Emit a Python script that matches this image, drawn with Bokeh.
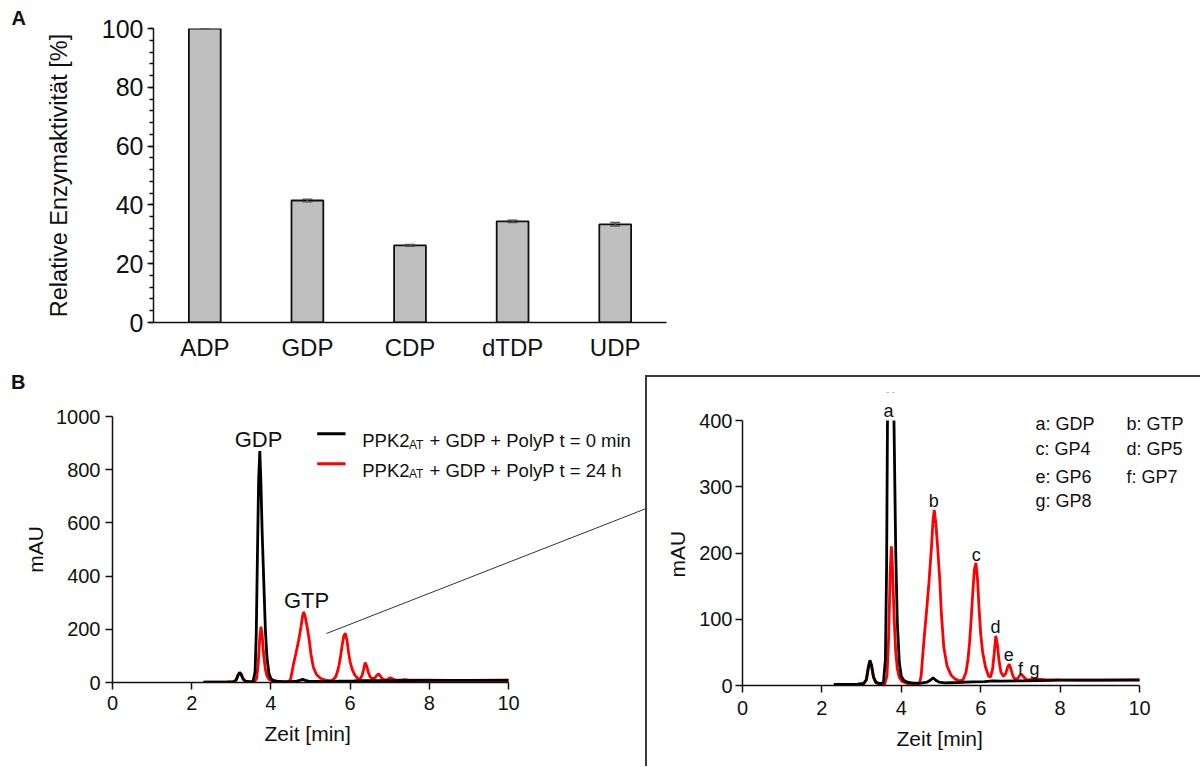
from bokeh.plotting import figure
from bokeh.models import (FactorRange, Range1d, FixedTicker, Label, Whisker, TeeHead,
                          ColumnDataSource, Spacer, Title, Div)
from bokeh.layouts import column, row
from bokeh.embed import file_html
from bokeh.resources import INLINE

FONT = "Liberation Sans"
INK = "#111111"

# ---------------- data: panel A ----------------
NUCLEOTIDES = ["ADP", "GDP", "CDP", "dTDP", "UDP"]
REL_ACTIVITY = [100.0, 41.5, 26.2, 34.4, 33.4]
REL_ERROR = [0.0, 0.4, 0.3, 0.4, 0.6]

# ---------------- data: panel B (HPLC traces) ----------------
TIME_T0 = [2.30, 2.60, 2.90, 3.05, 3.12, 3.17, 3.21, 3.25, 3.30, 3.36, 3.45, 3.55,
           3.60, 3.63, 3.66, 3.69, 3.72, 3.75, 3.78, 3.82, 3.86, 3.90, 3.95, 4.00,
           4.06, 4.15, 4.30, 4.50, 4.65, 4.73, 4.80, 4.87, 4.95, 5.10, 5.40, 5.80,
           6.10, 6.30, 6.50, 7.00, 7.50, 8.00, 9.00, 10.00]
MAU_T0 = [1.5, 1.5, 2.0, 3.0, 9, 28, 38, 31, 13, 5, 3, 4,
          40, 180, 480, 760, 870, 740, 560, 380, 200, 95, 35, 14,
          8, 5, 3.5, 3.5, 5, 8, 11.5, 8, 5, 4, 4.5, 5.5,
          6, 7, 6.5, 7, 7.5, 8, 8, 8.5]

TIME_T24 = [2.30, 2.60, 2.90, 3.05, 3.12, 3.17, 3.21, 3.25, 3.30, 3.36, 3.45, 3.58,
            3.64, 3.68, 3.72, 3.75, 3.78, 3.82, 3.86, 3.90, 3.95, 4.02, 4.15, 4.35,
            4.46, 4.50, 4.54, 4.58, 4.63, 4.70, 4.76, 4.80, 4.83, 4.87, 4.92, 4.97,
            5.01, 5.07, 5.15, 5.25, 5.35, 5.45, 5.55, 5.63, 5.68, 5.72, 5.76, 5.80,
            5.84, 5.88, 5.92, 5.96, 6.00, 6.05, 6.12, 6.20, 6.25, 6.30, 6.34, 6.38,
            6.42, 6.46, 6.51, 6.57, 6.63, 6.68, 6.72, 6.76, 6.82, 6.88, 6.94, 6.99,
            7.03, 7.08, 7.15, 7.22, 7.30, 7.38, 7.46, 7.60, 8.00, 8.50, 9.00, 10.00]
MAU_T24 = [1.0, 1.0, 1.5, 2.5, 8, 26, 36, 29, 12, 4, 1.5, 1.5,
           15, 70, 170, 210, 175, 100, 50, 25, 12, 6, 3, 1.5,
           3, 15, 45, 75, 108, 158, 209, 250, 265, 245, 205, 158,
           108, 58, 30, 16, 10, 7, 8, 20, 40, 65, 100, 140,
           175, 185, 160, 115, 78, 50, 28, 14, 13, 25, 48, 75,
           62, 38, 20, 14, 18, 28, 32, 25, 13, 9, 11, 16,
           17, 13, 9, 8.5, 9.5, 11, 9.5, 9, 8.5, 8, 8, 8]

LEGEND_MAIN = "PPK2"
LEGEND_SUB = "AT"
LEGEND_REST = ["+ GDP + PolyP t = 0 min", "+ GDP + PolyP t = 24 h"]
PEAK_LETTERS = ["a", "b", "c", "d", "e", "f", "g"]
PEAK_NAMES = ["GDP", "GTP", "GP4", "GP5", "GP6", "GP7", "GP8"]

X_TICKS = [0, 2, 4, 6, 8, 10]
Y_TICKS_A = [0, 20, 40, 60, 80, 100]
Y_MINOR_A = list(range(0, 101, 4))
Y_TICKS_B = [0, 200, 400, 600, 800, 1000]
Y_TICKS_C = [0, 100, 200, 300, 400]
INSET_Y_MAX = 400


def style_axis(ax, tick_fs, label_fs, tick_out, standoff, label_standoff):
    ax.axis_line_color = INK
    ax.axis_line_width = 1.5
    ax.major_tick_line_color = INK
    ax.major_tick_line_width = 1.5
    ax.major_tick_out = tick_out
    ax.major_tick_in = 0
    ax.minor_tick_line_color = None
    ax.major_label_text_font = FONT
    ax.major_label_text_font_size = f"{tick_fs}px"
    ax.major_label_text_color = INK
    ax.major_label_standoff = standoff
    ax.axis_label_text_font = FONT
    ax.axis_label_text_font_style = "normal"
    ax.axis_label_text_font_size = f"{label_fs}px"
    ax.axis_label_text_color = INK
    ax.axis_label_standoff = label_standoff


def clean(p):
    p.xgrid.visible = False
    p.ygrid.visible = False
    p.outline_line_color = None
    p.background_fill_color = "white"
    p.border_fill_color = "white"


def add_text(p, x, y, text, size, align="left", baseline="alphabetic", bold=False):
    p.add_layout(Label(x=x, y=y, text=text, text_font=FONT, text_font_size=f"{size}px",
                       text_align=align, text_baseline=baseline, text_color=INK,
                       text_font_style="bold" if bold else "normal", level="overlay"))


def side_title(text, size, align="left", offset=0, standoff=0, valign="bottom", bold=False):
    return Title(text=text, align=align, offset=offset, standoff=standoff,
                 vertical_align=valign, text_font=FONT, text_font_size=f"{size}px",
                 text_font_style="bold" if bold else "normal", text_color=INK)


# ---------------- panel A ----------------
pA = figure(x_range=FactorRange(factors=NUCLEOTIDES, range_padding=0), y_range=Range1d(0, 100),
            frame_width=513, frame_height=294,
            min_border_left=153, min_border_right=20, min_border_top=28, min_border_bottom=53,
            output_backend="svg", toolbar_location=None)
clean(pA)
pA.vbar(x=NUCLEOTIDES, top=REL_ACTIVITY, width=0.31, fill_color="#bfbfbf",
        line_color=INK, line_width=1.8)
err_src = ColumnDataSource(dict(base=NUCLEOTIDES,
                                lower=[v - e for v, e in zip(REL_ACTIVITY, REL_ERROR)],
                                upper=[v + e for v, e in zip(REL_ACTIVITY, REL_ERROR)]))
pA.add_layout(Whisker(base="base", lower="lower", upper="upper", source=err_src,
                      line_color="#555555", line_width=1.5, level="overlay",
                      upper_head=TeeHead(size=10, line_color="#555555", line_width=1.5),
                      lower_head=TeeHead(size=10, line_color="#555555", line_width=1.5)))
style_axis(pA.yaxis[0], 25, 23.5, 6, 4, 27)
pA.yaxis.ticker = FixedTicker(ticks=Y_TICKS_A, minor_ticks=Y_MINOR_A)
pA.yaxis.minor_tick_line_color = INK
pA.yaxis.minor_tick_line_width = 1.5
pA.yaxis.minor_tick_out = 4
pA.yaxis.minor_tick_in = 0
pA.yaxis.axis_label = "Relative Enzymaktivität [%]"
style_axis(pA.xaxis[0], 24, 22, 0, 11, 5)
pA.add_layout(side_title("A", 20, align="left", offset=-142, standoff=0, valign="bottom", bold=True), "above")

# ---------------- header strip carrying the "B" panel letter ----------------
HDR_H = 17
hdrB = Div(text="B", width=645, height=HDR_H, margin=0,
           styles={"font-family": FONT, "font-size": "20px", "font-weight": "bold",
                   "line-height": "14px", "color": INK, "text-indent": "11px",
                   "overflow": "visible", "padding": "0px"})

# ---------------- panel B (overview) ----------------
XB_END = 533 / 39.6
pB = figure(x_range=Range1d(0, XB_END), y_range=Range1d(0, 1000),
            frame_width=533, frame_height=266,
            min_border_left=112, min_border_right=0, min_border_top=24, min_border_bottom=84,
            output_backend="svg", toolbar_location=None)
clean(pB)
pB.line(TIME_T24, MAU_T24, line_color="#ff0000", line_width=2.8)
pB.line(TIME_T0, MAU_T0, line_color="#000000", line_width=2.8)
style_axis(pB.xaxis[0], 20, 21, 7, 6, 7)
style_axis(pB.yaxis[0], 20, 21, 7, 5, 6)
pB.xaxis.bounds = (0, 10)
pB.xaxis.ticker = FixedTicker(ticks=X_TICKS)
pB.yaxis.ticker = FixedTicker(ticks=Y_TICKS_B)
pB.yaxis.axis_label = "mAU"
pB.add_layout(side_title("Zeit [min]", 21, align="left", offset=152, standoff=18, valign="top"), "below")


def b_x(px):
    return (px - 112) / 39.6


def b_y(py):
    return (682 - py) / 0.266


# zoom connector towards the inset
pB.line([b_x(326), b_x(660)], [b_y(633), b_y(508.3 - (660 - 645) * (633 - 508.3) / (645 - 326))],
        line_color="#333333", line_width=1)

add_text(pB, b_x(258), b_y(438.5), "GDP", 22, align="center")
add_text(pB, b_x(306), b_y(600), "GTP", 22, align="center")

for i, (col, ky, base) in enumerate([("#000000", 433.3, 440.0), ("#ff0000", 463.3, 469.5)]):
    pB.line([b_x(316.7), b_x(345)], [b_y(ky), b_y(ky)], line_color=col, line_width=3)
    add_text(pB, b_x(361.7), b_y(base), LEGEND_MAIN, 18.5)
    add_text(pB, b_x(408.5), b_y(base + 4.3), LEGEND_SUB, 12)
    add_text(pB, b_x(429.0), b_y(base), LEGEND_REST[i], 18.5)

# ---------------- panel B inset ----------------
XC_END = 453 / 39.7
YC_END = 293 / 0.6625
pC = figure(x_range=Range1d(0, XC_END), y_range=Range1d(0, YC_END),
            frame_width=453, frame_height=293,
            min_border_left=95, min_border_right=5, min_border_top=0, min_border_bottom=81,
            output_backend="svg", toolbar_location=None)
clean(pC)
pC.line(TIME_T24, MAU_T24, line_color="#ff0000", line_width=2.8)
pC.line(TIME_T0, MAU_T0, line_color="#000000", line_width=2.8)
# the inset's y axis stops at 400 mAU: white mask over everything above it
pC.quad(left=[-1.0], right=[XC_END + 1.0], bottom=[INSET_Y_MAX], top=[YC_END * 2.0],
        fill_color="white", line_color=None)
style_axis(pC.xaxis[0], 20, 21, 7, 8, 8)
style_axis(pC.yaxis[0], 20, 21, 7, 3, 8)
pC.xaxis.bounds = (0, 10)
pC.yaxis.bounds = (0, INSET_Y_MAX)
pC.xaxis.ticker = FixedTicker(ticks=X_TICKS)
pC.yaxis.ticker = FixedTicker(ticks=Y_TICKS_C)
pC.add_layout(side_title("Zeit [min]", 21, align="left", offset=154, standoff=18, valign="top"), "below")
pC.add_layout(side_title("mAU", 21, align="left", offset=108, standoff=16, valign="bottom"), "left")


def c_x(px):
    return (px - 742) / 39.7


def c_y(py):
    return (685 - py) / 0.6625


letter_pos = [(888, 410), (933.3, 500), (975.7, 554), (995, 626), (1008.3, 654), (1020, 668), (1034, 668)]
legend_pos = [(1035, 423.3), (1126, 423.3), (1035, 448.3), (1126, 448.3),
              (1035, 476.7), (1126, 476.7), (1035, 500.5)]
for letter, (px, py) in zip(PEAK_LETTERS, letter_pos):
    add_text(pC, c_x(px), c_y(py), letter, 18, align="center")
for letter, name, (px, py) in zip(PEAK_LETTERS, PEAK_NAMES, legend_pos):
    add_text(pC, c_x(px), c_y(py), f"{letter}: {name}", 18)

BODY_H = 374
hbar = Spacer(width=555, height=2,
              styles={"background-color": "#3a3a3a", "position": "relative", "z-index": "6"})
vbar_top = Spacer(width=2, height=HDR_H - 2,
                  styles={"background-color": "#3a3a3a", "position": "relative", "z-index": "6"})
cover = Spacer(width=553, height=HDR_H - 2,
               styles={"background-color": "white", "position": "relative", "z-index": "5"})
vbar_body = Spacer(width=2, height=BODY_H, styles={"background-color": "#3a3a3a"})

header_row = row(hdrB, column(hbar, row(vbar_top, cover)))
body_row = row(pB, column(row(vbar_body, pC)))
layout = column(pA, header_row, body_row)

open("out.html", "w").write(file_html(layout, INLINE))
